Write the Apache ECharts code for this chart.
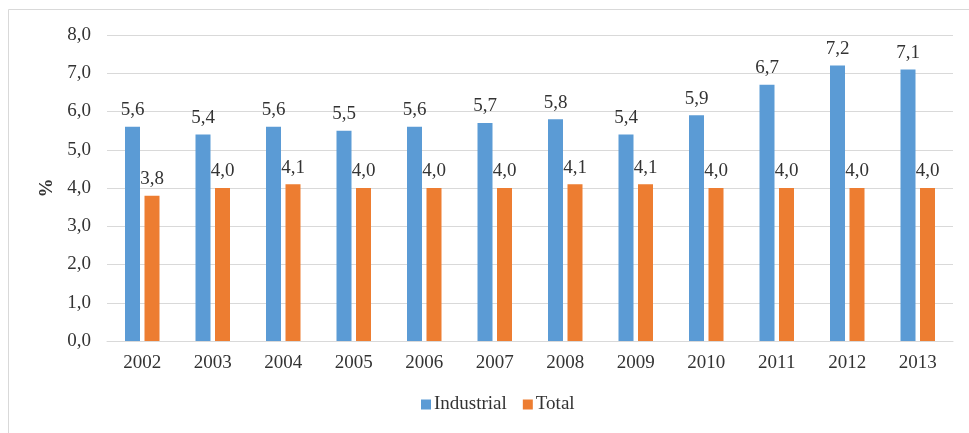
<!DOCTYPE html>
<html>
<head>
<meta charset="utf-8">
<script src="https://cdn.jsdelivr.net/npm/echarts@6/dist/echarts.min.js"></script>
<style>
  html, body { margin: 0; padding: 0; background: #fff; }
  #chart { width: 969px; height: 433px; }
</style>
</head>
<body>
<div id="chart"></div>
<script>
const years = ['2002','2003','2004','2005','2006','2007','2008','2009','2010','2011','2012','2013'];
const industrial = [5.6, 5.4, 5.6, 5.5, 5.6, 5.7, 5.8, 5.4, 5.9, 6.7, 7.2, 7.1];
const total = [3.8, 4.0, 4.1, 4.0, 4.0, 4.0, 4.1, 4.1, 4.0, 4.0, 4.0, 4.0];
const seriesNames = ['Industrial', 'Total'];

const FONT = '"Liberation Serif", "Times New Roman", serif';
const TEXT = '#333333';
const SIZE = 19;
const fmt = v => v.toFixed(1).replace('.', ',');

const chart = echarts.init(document.getElementById('chart'), null, { renderer: 'canvas' });

const barLabel = {
  show: true,
  position: 'top',
  distance: 7,
  fontFamily: FONT,
  fontSize: SIZE,
  color: TEXT,
  formatter: p => fmt(p.value)
};

chart.setOption({
  animation: false,
  backgroundColor: '#ffffff',
  textStyle: { fontFamily: FONT },
  graphic: [{
    type: 'rect',
    shape: { x: 8.5, y: 9.5, width: 1200, height: 1200 },
    style: { fill: 'none', stroke: '#d9d9d9', lineWidth: 1 },
    silent: true,
    z: -10
  }],
  grid: { left: 107, right: 16, top: 35, bottom: 92, containLabel: false },
  legend: {
    data: seriesNames,
    bottom: 14,
    left: 416,
    itemWidth: 10,
    itemHeight: 10,
    itemGap: 16,
    icon: 'rect',
    textStyle: { fontFamily: FONT, fontSize: SIZE, color: TEXT, padding: [0, 0, 0, -2] }
  },
  xAxis: {
    type: 'category',
    data: years,
    axisLine: { lineStyle: { color: '#d9d9d9', width: 1 } },
    axisTick: { show: false },
    axisLabel: { fontFamily: FONT, fontSize: SIZE, color: TEXT, margin: 13 }
  },
  yAxis: {
    type: 'value',
    min: 0,
    max: 8,
    interval: 1,
    name: '%',
    nameLocation: 'middle',
    nameGap: 44,
    nameRotate: 90,
    nameTextStyle: { fontFamily: FONT, fontSize: SIZE, fontWeight: 'bold', color: TEXT },
    axisLine: { show: false },
    axisTick: { show: false },
    axisLabel: { fontFamily: FONT, fontSize: SIZE, color: TEXT, margin: 16, formatter: v => fmt(v) },
    splitLine: { lineStyle: { color: '#d9d9d9', width: 1 } }
  },
  series: [
    {
      name: seriesNames[0],
      type: 'bar',
      data: industrial,
      barWidth: 15,
      barGap: '30%',
      itemStyle: { color: '#5B9BD5' },
      label: barLabel
    },
    {
      name: seriesNames[1],
      type: 'bar',
      data: total,
      barWidth: 15,
      barGap: '30%',
      itemStyle: { color: '#ED7D31' },
      label: barLabel
    }
  ]
});
</script>
</body>
</html>
